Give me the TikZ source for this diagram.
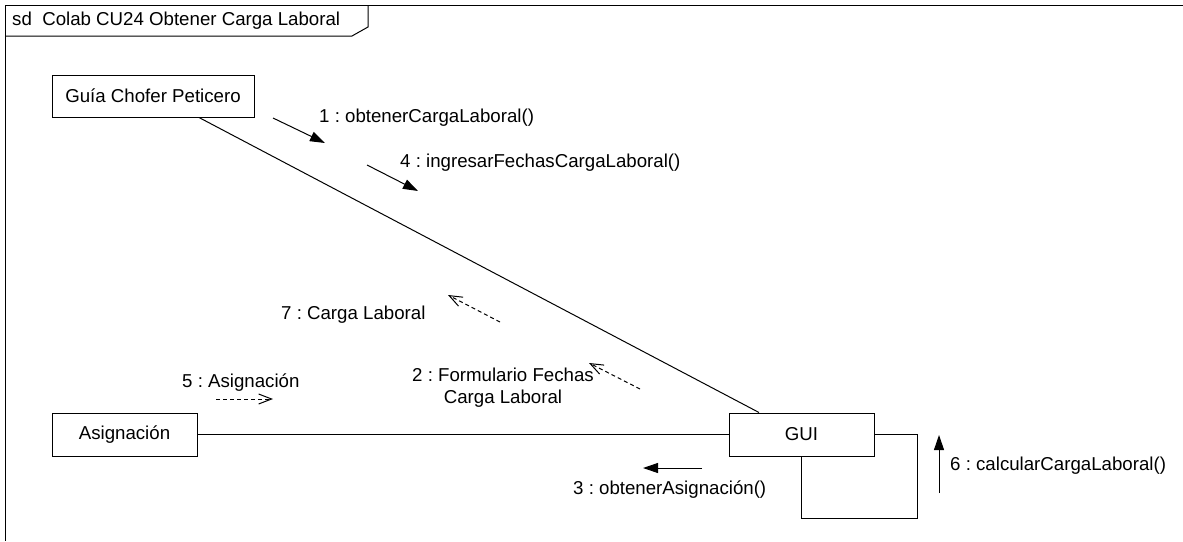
\documentclass[tikz,border=0pt]{standalone}
\usepackage{fontspec}
\setmainfont{Liberation Sans}
\usetikzlibrary{arrows.meta}
\frenchspacing
\begin{document}
\begin{tikzpicture}[x=1pt,y=-1pt,
  every node/.style={font=\fontsize{18.67}{22}\selectfont},
  obj/.style={draw,line width=1pt,rectangle,inner sep=0pt},
  lbl/.style={inner sep=0pt,anchor=west},
  link/.style={line width=1pt},
  syncmsg/.style={line width=1pt,-{Triangle[length=15pt,width=10pt]}},
  retmsg/.style={line width=1pt,dash pattern=on 4pt off 3pt,-{Straight Barb[length=13pt,width=10pt,line width=1pt]}}]
\useasboundingbox (0,0) rectangle (1183,541);
% frame
\draw[line width=1pt] (1183,5) -- (5,5) -- (5,541);
\draw[line width=1pt] (368,5) -- (368,27) -- (352,36) -- (5,36);
\node[lbl] (title) at (12,21) {sd\ \ Colab CU24 Obtener Carga Laboral};
% objects
\node[obj,minimum width=202pt,minimum height=42pt] (guia) at (153,96) {Guía Chofer Peticero};
\node[obj,minimum width=145pt,minimum height=43pt] (asig) at (124.5,434.5) {Asignación};
\node[obj,minimum width=145pt,minimum height=43pt] (gui) at (801.5,434.5) {GUI};
\coordinate (loopc) at (917,518);
% links
\draw[link] ([xshift=46pt]guia.south) -- ([xshift=-42.5pt]gui.north);
\draw[link] (asig.east) -- (gui.west);
\draw[link] (gui.east) -| (loopc) -| (gui.south);
% message coordinates
\coordinate (m1a) at (273,118); \coordinate (m1b) at (325,143);
\coordinate (m4a) at (367,165); \coordinate (m4b) at (418,191);
\coordinate (m7a) at (500,322); \coordinate (m7b) at (448,295);
\coordinate (m2a) at (640,389); \coordinate (m2b) at (589,363);
\coordinate (m5a) at (216,399); \coordinate (m5b) at (273,399);
\coordinate (m3a) at (702,468); \coordinate (m3b) at (643,468);
\coordinate (m6a) at (939,493); \coordinate (m6b) at (939,435);
\draw[syncmsg] (m1a) -- (m1b);
\draw[syncmsg] (m4a) -- (m4b);
\draw[retmsg] (m7a) -- (m7b);
\draw[retmsg] (m2a) -- (m2b);
\draw[retmsg] (m5a) -- (m5b);
\draw[syncmsg] (m3a) -- (m3b);
\draw[syncmsg] (m6a) -- (m6b);
% labels
\node[lbl] (l1) at (319,118) {1 : obtenerCargaLaboral()};
\node[lbl] (l4) at (400,163) {4 : ingresarFechasCargaLaboral()};
\node[lbl] (l7) at (281,315) {7 : Carga Laboral};
\node[inner sep=0pt,align=center] (l2) at (503,388) {2 : Formulario Fechas\\Carga Laboral};
\node[lbl] (l5) at (182,383) {5 : Asignación};
\node[lbl] (l3) at (573,490) {3 : obtenerAsignación()};
\node[lbl] (l6) at (950,466) {6 : calcularCargaLaboral()};
\end{tikzpicture}
\end{document}
